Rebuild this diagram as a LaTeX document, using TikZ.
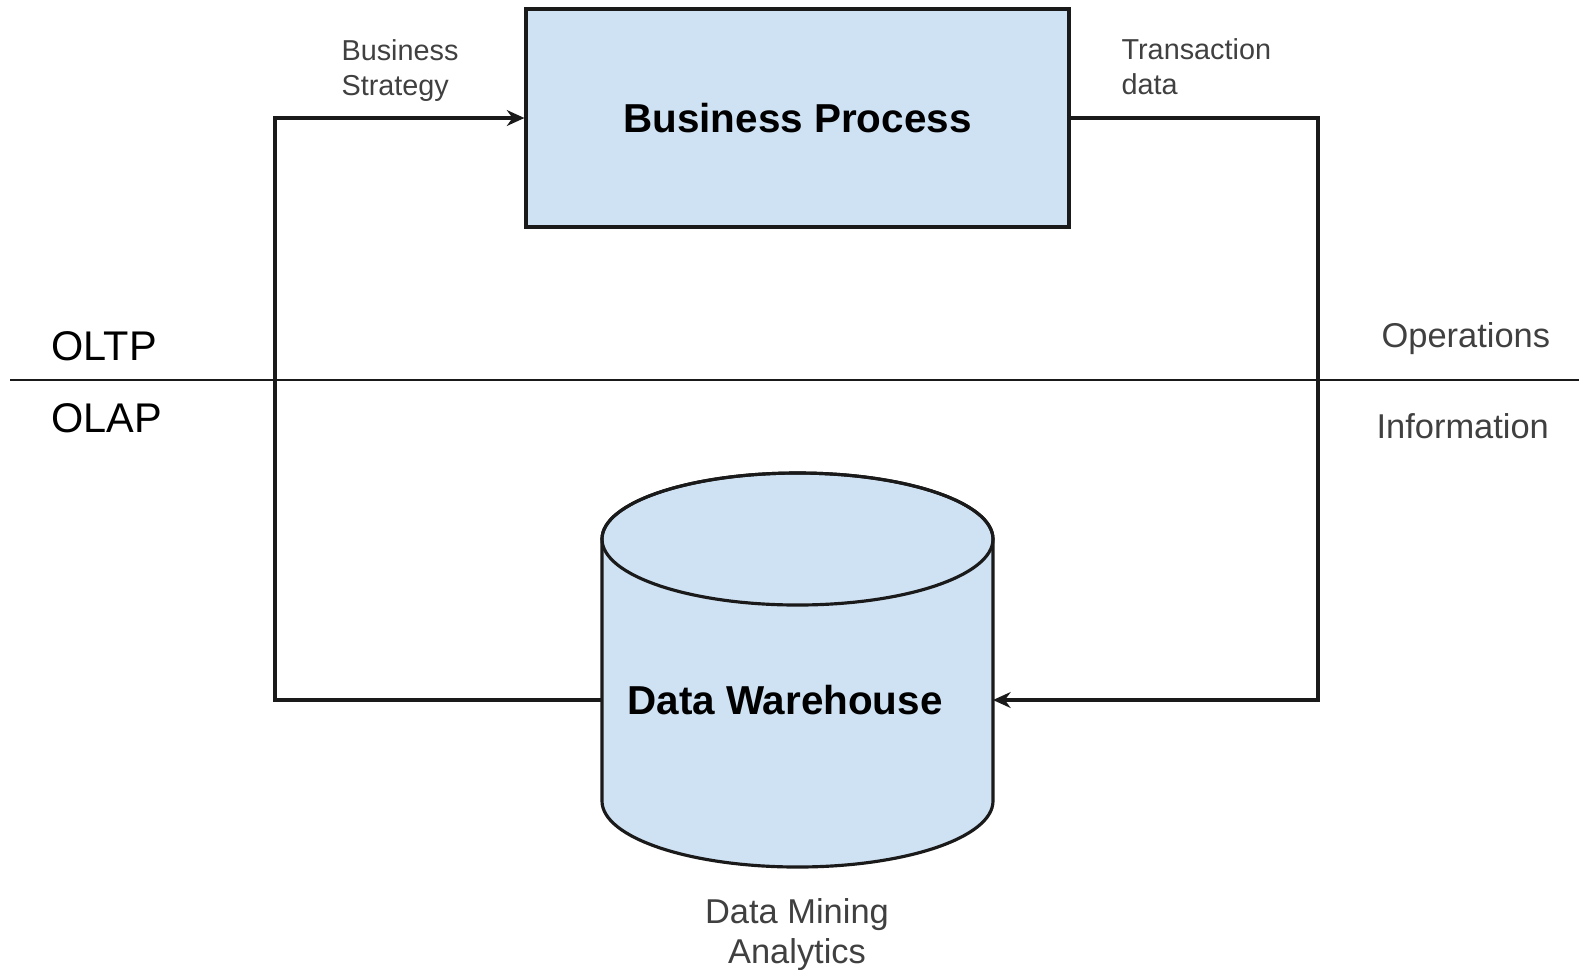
\documentclass[tikz,border=0pt]{standalone}
\usepackage{fontspec}
\setmainfont{Liberation Sans}
\usetikzlibrary{arrows.meta}
\definecolor{dwfill}{HTML}{CFE2F3}
\definecolor{dwline}{HTML}{1A1A1A}
\definecolor{dwlabel}{HTML}{404040}

\begin{document}
\begin{tikzpicture}[>={Stealth[length=5pt,width=4.5pt]}, line width=0.9pt]
  \useasboundingbox (0,0) rectangle (15.79,-9.69);
  \tikzset{
    flow/.style={draw=dwline, ->},
    sidelabel/.style={inner sep=0pt, text=dwlabel, font=\fontsize{8.2}{10}\selectfont, align=left, anchor=north west},
    layerlabel/.style={inner sep=0pt, anchor=base west, font=\fontsize{11.8}{14}\selectfont},
    kindlabel/.style={inner sep=0pt, anchor=base west, text=dwlabel, font=\fontsize{9.8}{12}\selectfont}
  }

  % OLTP / OLAP divide
  \draw[dwline, line width=0.75pt] (0.10,-3.80) -- (15.79,-3.80);
  \node[layerlabel] (oltp) at (0.50,-3.60) {OLTP};
  \node[layerlabel] (olap) at (0.50,-4.32) {OLAP};
  \node[kindlabel] (ops)  at (13.80,-3.47) {Operations};
  \node[kindlabel] (info) at (13.75,-4.38) {Information};

  % business process box
  \node[draw=dwline, fill=dwfill, minimum width=5.43cm, minimum height=2.18cm,
        font=\fontsize{11.5}{14}\selectfont\bfseries] (bp) at (7.975,-1.18) {Business Process};

  % data warehouse cylinder (drawn by hand, text node on top)
  \coordinate (dwtop) at (7.975,-5.39);
  \coordinate (dwbot) at (7.975,-8.01);
  \filldraw[draw=dwline, fill=dwfill] ([xshift=-1.955cm]dwtop) -- ([xshift=-1.955cm]dwbot)
      arc (180:360:1.955 and 0.66) -- ([xshift=1.955cm]dwtop) arc (0:180:1.955 and 0.66) -- cycle;
  \draw[dwline] (dwtop) ellipse (1.955 and 0.66);
  \node[inner sep=0pt, font=\fontsize{11.5}{14}\selectfont\bfseries] (dw) at (7.85,-7.00) {Data Warehouse};
  \coordinate (dwl) at (6.02,-7.00);   % left wall of the cylinder
  \coordinate (dwr) at (9.93,-7.00);   % right wall of the cylinder

  % feedback loop
  \coordinate (lc) at (2.75,-7.00);
  \coordinate (rc) at (13.18,-7.00);
  \draw[flow] (dwl) -- (lc) |- (bp.west);
  \draw[flow] (bp.east) -| (rc) -- (dwr);

  % connector labels
  \node[sidelabel] (strat) at (3.40,-0.38) {Business\\Strategy};
  \node[sidelabel] (trans) at (11.20,-0.37) {Transaction\\data};
  \node[inner sep=0pt, anchor=north, align=center, text=dwlabel,
        font=\fontsize{9.8}{11.5}\selectfont] (mining) at (7.97,-8.97) {Data Mining\\Analytics};
\end{tikzpicture}
\end{document}
